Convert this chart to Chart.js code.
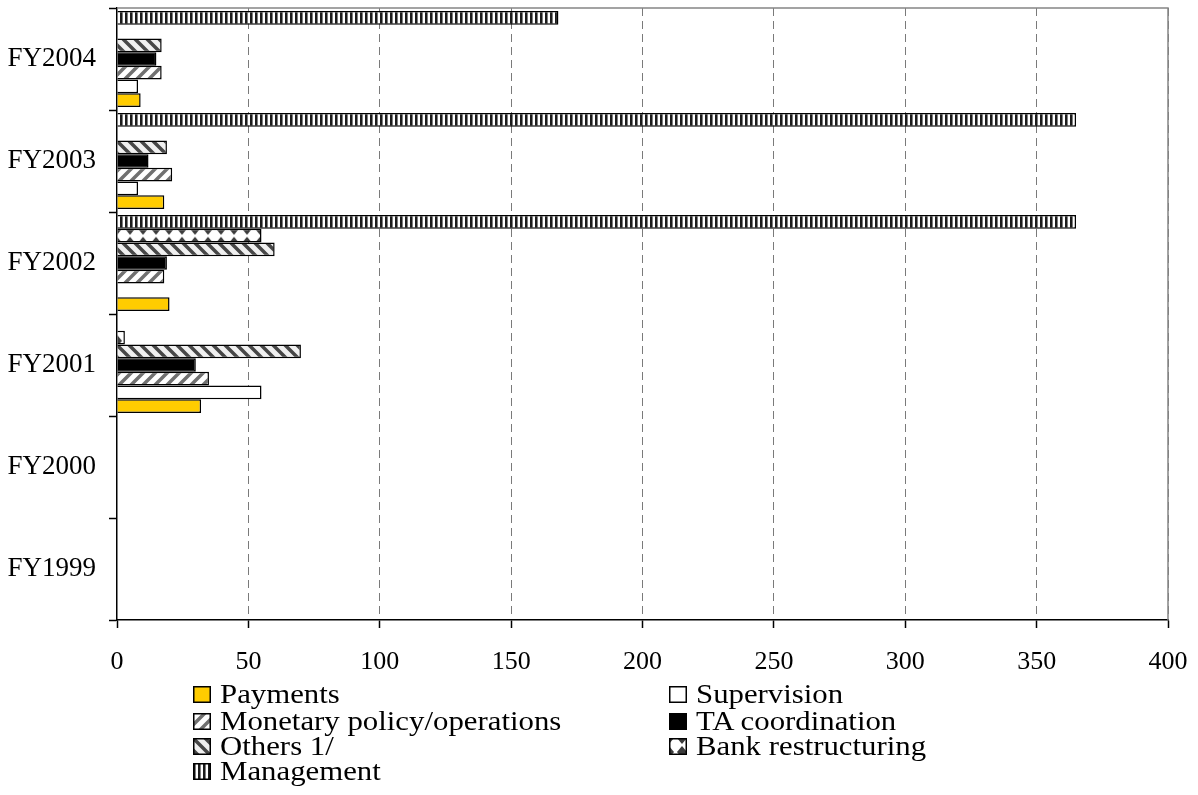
<!DOCTYPE html>
<html>
<head>
<meta charset="utf-8">
<script src="https://cdn.jsdelivr.net/npm/chart.js@4.4.1/dist/chart.umd.min.js"></script>
<style>
  body{margin:0;background:#fff;width:1198px;height:795px;overflow:hidden;position:relative;
       font-family:"Times New Roman","Liberation Serif",Tinos,Times,serif;color:#000}
  #wrap{position:absolute;left:0;top:0;width:1198px;height:680px}
  .key{position:absolute;height:26px;display:flex;align-items:center;font-size:28px;line-height:1;white-space:nowrap}
  .key canvas{width:18px;height:17px;margin-right:9px;flex:none}
  .key span{display:inline-block;transform:scaleX(1.1);transform-origin:left center}
</style>
</head>
<body>
<div id="wrap"><canvas id="cv" width="1198" height="680"></canvas></div>
<div id="legend"></div>
<script>
// fiscal years, bottom to top
const years = ['FY1999','FY2000','FY2001','FY2002','FY2003','FY2004'];
const payments    = [0, 0, 32, 20, 18,   9];
const supervision = [0, 0, 55,  0,  8,   8];
const monetary    = [0, 0, 35, 18, 21,  17];
const taCoord     = [0, 0, 30, 19, 12,  15];
const others      = [0, 0, 70, 60, 19,  17];
const bankRestr   = [0, 0,  3, 55,  0,   0];
const management  = [0, 0,  0, 365, 365, 168];
const seriesNames = ['Payments','Supervision','Monetary policy/operations','TA coordination','Others 1/','Bank restructuring','Management'];
const seriesData  = [payments, supervision, monetary, taCoord, others, bankRestr, management];
const xMin = 0, xMax = 400, xStep = 50;
const serif = '"Times New Roman", "Liberation Serif", Tinos, Times, serif';

// hatch tiles
function tile(w, h, draw){
  const c = document.createElement('canvas'); c.width = w; c.height = h;
  const g = c.getContext('2d'); draw(g, w, h); return c;
}
function lines(g, segs){ g.beginPath(); segs.forEach(s=>{ g.moveTo(s[0],s[1]); g.lineTo(s[2],s[3]); }); g.stroke(); }
const tiles = {
  monetary: tile(12,12,g=>{ g.fillStyle='#fff'; g.fillRect(0,0,12,12);
    g.strokeStyle='#707070'; g.lineWidth=3.5;
    lines(g,[[-3,3,3,-3],[-3,15,15,-3],[9,15,15,9]]); }),
  others: tile(12,12,g=>{ g.fillStyle='#f0f0f0'; g.fillRect(0,0,12,12);
    g.strokeStyle='#474747'; g.lineWidth=3.5;
    lines(g,[[-3,-3,15,15],[9,-3,15,3],[-3,9,3,15]]); }),
  bank: tile(13,14,g=>{ g.fillStyle='#fff'; g.fillRect(0,0,13,14);
    g.fillStyle='#3c3c3c';
    [0,13].forEach(x=>{
      g.beginPath(); g.moveTo(x-5,0); g.lineTo(x+5,0); g.lineTo(x,6); g.closePath(); g.fill();
      g.beginPath(); g.moveTo(x-5,14); g.lineTo(x+5,14); g.lineTo(x,8); g.closePath(); g.fill();
    }); }),
  management: tile(5,5,g=>{ g.fillStyle='#fff'; g.fillRect(0,0,5,5);
    g.fillStyle='#1c1c1c'; g.fillRect(0,0,2,5);
    g.fillStyle='#808080'; g.fillRect(2,0,1,5); })
};
const ctx = document.getElementById('cv').getContext('2d');
const pat = t => ctx.createPattern(t,'repeat');
const fills = ['#FFCC00', '#FFFFFF', pat(tiles.monetary), '#000000', pat(tiles.others), pat(tiles.bank), pat(tiles.management)];
const swatchTiles = [null, null, tiles.monetary, null, tiles.others, tiles.bank, tiles.management];
const bankIdx = seriesNames.indexOf('Bank restructuring');

// dataset 0 sits at the top of each band, so feed them in reverse
const datasets = seriesNames.map((name,i)=>({
  label: name,
  data: seriesData[i].slice().reverse(),
  backgroundColor: fills[i],
  borderColor: '#000',
  borderWidth: 1.5,
  categoryPercentage: 0.94,
  barPercentage: 1
})).reverse();

const frame = {
  id: 'frame',
  beforeDatasetsDraw(chart){
    const {ctx, chartArea:a} = chart;
    // line the triangle row up with the longest bank-restructuring bar
    const meta = chart.getDatasetMeta(seriesNames.length - 1 - bankIdx);
    const vals = datasets[seriesNames.length - 1 - bankIdx].data;
    const el = meta.data[vals.indexOf(Math.max(...vals))];
    if (el && fills[bankIdx].setTransform) fills[bankIdx].setTransform(new DOMMatrix([1,0,0,1,0,el.y - el.height/2]));
    ctx.save(); ctx.strokeStyle='#858585'; ctx.lineWidth=1.5;
    ctx.beginPath(); ctx.moveTo(a.left,a.top); ctx.lineTo(a.right,a.top); ctx.lineTo(a.right,a.bottom); ctx.stroke();
    ctx.restore();
  }
};

new Chart(ctx, {
  type: 'bar',
  data: { labels: years.slice().reverse(), datasets },
  plugins: [frame],
  options: {
    indexAxis: 'y',
    responsive: false,
    animation: false,
    devicePixelRatio: 1,
    layout: { padding: { top: 8, right: 30, left: 0, bottom: 0 } },
    plugins: { legend: { display: false }, tooltip: { enabled: false } },
    scales: {
      x: {
        min: xMin, max: xMax,
        ticks: { stepSize: xStep, color: '#000', padding: 19, font: { family: serif, size: 26 } },
        grid: { color: c => (c.tick && c.tick.value > xMin) ? '#7a7a7a' : 'rgba(0,0,0,0)', lineWidth: 1,
                tickColor: '#000', tickLength: 8, tickWidth: 1.5, tickBorderDash: [] },
        border: { color: '#000', width: 1.5, dash: [8,5] },
        afterFit: s => { s.height = 60; s.paddingLeft = 0; s.paddingRight = 0; }
      },
      y: {
        ticks: { color: '#000', padding: 13, font: { family: serif, size: 27 } },
        grid: { drawOnChartArea: false, tickColor: '#000', tickLength: 8, tickWidth: 1.5 },
        border: { color: '#000', width: 1.5 },
        afterFit: s => { s.width = 117; s.paddingTop = 0; s.paddingBottom = 0; }
      }
    }
  }
});

// two-column key under the plot
const keyPos = [[193,681],[669,681],[193,708],[669,708],[193,733],[669,733],[193,758]];
const legend = document.getElementById('legend');
seriesNames.forEach((name,i)=>{
  const d = document.createElement('div'); d.className='key';
  d.style.left = keyPos[i][0]+'px'; d.style.top = keyPos[i][1]+'px';
  const sw = document.createElement('canvas'); sw.width=18; sw.height=17;
  const g = sw.getContext('2d');
  g.fillStyle = swatchTiles[i] ? g.createPattern(swatchTiles[i],'repeat') : fills[i];
  g.fillRect(0,0,18,17);
  g.strokeStyle='#000'; g.lineWidth=1.5; g.strokeRect(0.75,0.75,16.5,15.5);
  const t = document.createElement('span'); t.textContent = name;
  d.appendChild(sw); d.appendChild(t); legend.appendChild(d);
});
</script>
</body>
</html>
